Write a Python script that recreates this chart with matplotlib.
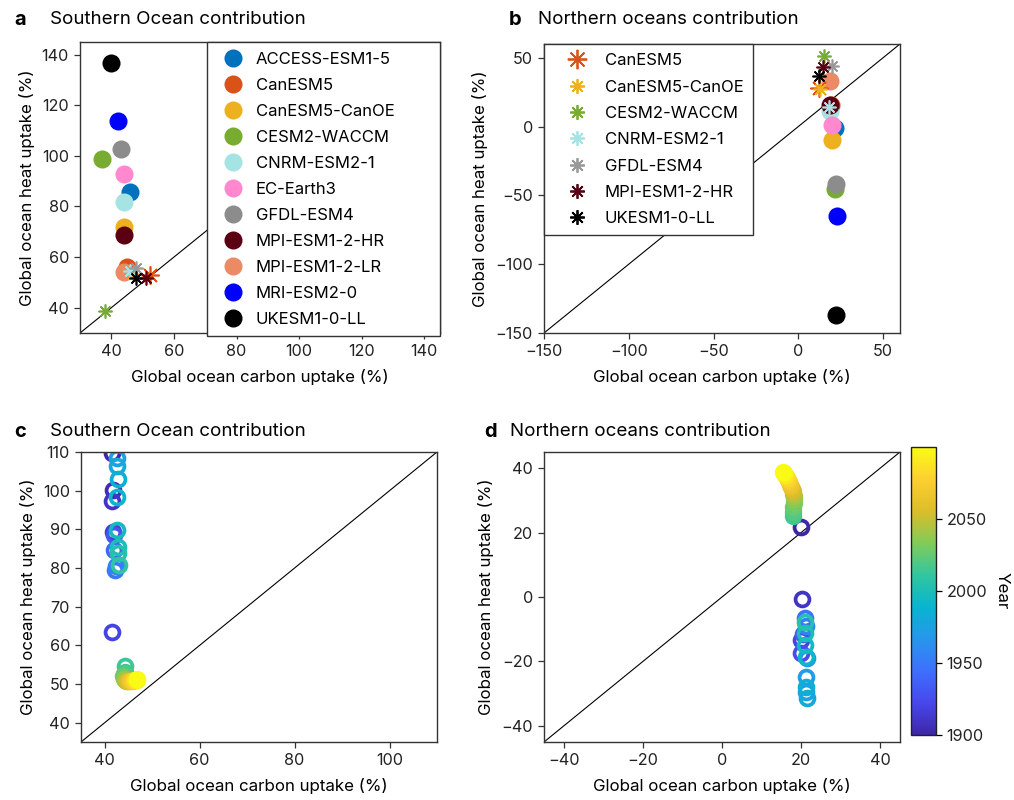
import numpy as np
import matplotlib
matplotlib.use('Agg')
import matplotlib.pyplot as plt
from matplotlib.colors import LinearSegmentedColormap, Normalize
from matplotlib.lines import Line2D
import matplotlib.cm as cm

plt.rcParams['font.family'] = ['Inter', 'DejaVu Sans']
plt.rcParams['font.size'] = 11.5
plt.rcParams['axes.unicode_minus'] = True

# ---- data: panels a, b (model means) ----
models = ['ACCESS-ESM1-5', 'CanESM5', 'CanESM5-CanOE', 'CESM2-WACCM', 'CNRM-ESM2-1',
          'EC-Earth3', 'GFDL-ESM4', 'MPI-ESM1-2-HR', 'MPI-ESM1-2-LR', 'MRI-ESM2-0', 'UKESM1-0-LL']
model_colors = ['#0072BD', '#D95319', '#EDB120', '#77AC30', '#A6E4E4',
                '#FF88CF', '#8C8C8C', '#5A0012', '#EC8A66', '#0000FF', '#000000']

so_carbon = [46.1, 45.0, 43.9, 37.1, 43.9, 43.9, 43.1, 43.9, 43.9, 42.0, 39.9]
so_heat = [85.8, 56.2, 72.0, 98.9, 81.8, 92.8, 102.8, 68.7, 54.0, 113.9, 136.8]
no_carbon = [21.8, 19.4, 19.8, 21.8, 18.8, 19.8, 22.4, 18.8, 18.8, 22.7, 22.4]
no_heat = [-1.0, 16.0, -9.6, -45.7, 11.0, 1.4, -41.4, 15.9, 33.2, -64.7, -136.6]

# asterisk models (second set of values)
ast_models = ['CanESM5', 'CanESM5-CanOE', 'CESM2-WACCM', 'CNRM-ESM2-1', 'GFDL-ESM4',
              'MPI-ESM1-2-HR', 'UKESM1-0-LL']
ast_colors = ['#D95319', '#EDB120', '#77AC30', '#A6E4E4', '#999999', '#5A0012', '#000000']
ast_so_carbon = [52.3, 47.0, 38.1, 46.1, 48.0, 51.2, 48.0]
ast_so_heat = [52.8, 53.5, 38.8, 54.5, 55.6, 51.9, 51.9]
ast_no_carbon = [12.0, 12.9, 14.9, 18.0, 19.8, 14.3, 12.2]
ast_no_heat = [28.0, 27.2, 51.2, 14.0, 44.0, 43.3, 36.8]

# ---- data: panels c, d (time evolution) ----
hist_years_c = [1900, 1905, 1910, 1915, 1920, 1930, 1940, 1950, 1955, 1975, 1980, 1985,
                1990, 1995, 2000, 2005, 2010, 2014]
hist_carbon_c = [41.6, 41.7, 41.6, 41.8, 41.6, 42.0, 42.0, 42.2, 42.3, 42.6, 42.6, 42.7,
                 42.5, 42.6, 42.8, 42.8, 43.0, 44.3]
hist_heat_c = [109.8, 100.3, 97.3, 89.4, 63.4, 88.5, 84.6, 79.5, 80.5, 108.4, 106.3, 102.9,
               98.4, 89.8, 85.5, 83.8, 80.8, 54.7]

fut_years = [2015, 2020, 2025, 2030, 2035, 2040, 2045, 2050, 2055, 2060, 2065, 2070,
             2075, 2080, 2085, 2090, 2095, 2100]
fut_carbon_c = [44.2, 44.0, 43.9, 44.0, 44.1, 44.3, 44.5, 44.7, 44.9, 45.1, 45.4, 45.6,
                45.9, 46.1, 46.3, 46.5, 46.7, 46.9]
fut_heat_c = [53.2, 52.6, 52.0, 51.5, 51.2, 51.0, 50.9, 50.9, 50.8, 50.8, 50.8, 50.9,
              50.9, 51.0, 51.0, 51.1, 51.1, 51.2]

hist_years_d = [1900, 1910, 1920, 1925, 1935, 1945, 1955, 1960, 1970, 1975, 1980, 1985,
                1990, 1995, 2000, 2005]
hist_carbon_d = [20.0, 20.2, 20.0, 20.0, 20.5, 21.1, 21.3, 21.5, 21.3, 21.3, 21.4, 21.3,
                 21.2, 21.0, 20.9, 20.9]
hist_heat_d = [21.6, -0.7, -13.3, -17.5, -11.5, -6.6, -9.0, -19.0, -24.9, -29.4, -31.4, -28.0,
               -18.5, -14.9, -11.3, -7.7]
fut_carbon_d = [18.0, 17.9, 18.0, 18.1, 18.1, 18.1, 18.0, 17.9, 17.7, 17.5, 17.3, 17.0,
                16.8, 16.5, 16.2, 16.0, 15.7, 15.5]
fut_heat_d = [25.0, 26.5, 28.0, 29.3, 30.3, 31.2, 32.0, 32.8, 33.5, 34.2, 34.9, 35.6,
              36.2, 36.8, 37.4, 37.9, 38.4, 38.8]

# parula-like colormap
parula_pts = [(0.2422, 0.1504, 0.6603), (0.2803, 0.2782, 0.9221), (0.2440, 0.4358, 0.9988),
              (0.1540, 0.5902, 0.9218), (0.0297, 0.7082, 0.8163), (0.1938, 0.7758, 0.6251),
              (0.5044, 0.7993, 0.3480), (0.8634, 0.7406, 0.1596), (0.9892, 0.8130, 0.1880),
              (0.9769, 0.9839, 0.0805)]
parula = LinearSegmentedColormap.from_list('parula', parula_pts)
norm = Normalize(1900, 2100)

fig = plt.figure(figsize=(10.14, 8), dpi=100)

W, H = 1014., 800.
def add_ax(l, t, r, b):
    return fig.add_axes([l / W, 1 - b / H, (r - l) / W, (b - t) / H])

ax_a = add_ax(80, 42, 440, 333)
ax_b = add_ax(544, 44, 900, 333)
ax_c = add_ax(81, 452, 437, 742)
ax_d = add_ax(544, 452, 900, 742)
cax = add_ax(911, 447, 936, 735)

spine_col = '#333333'
for ax in [ax_a, ax_b, ax_c, ax_d]:
    for s in ax.spines.values():
        s.set_color(spine_col)
        s.set_linewidth(1.0)
    ax.tick_params(direction='out', length=4, width=0.9, color=spine_col, labelsize=11.7,
                   labelcolor='#222222', pad=4)
    ax.set_xlabel('Global ocean carbon uptake (%)', fontsize=12.2, labelpad=7)
    ax.set_ylabel('Global ocean heat uptake (%)', fontsize=12.2, labelpad=5)

# ---- panel a ----
lim_a = (30, 145)
ax_a.plot(lim_a, lim_a, color='black', lw=0.8, zorder=1)
for i in range(len(models)):
    ax_a.plot(so_carbon[i], so_heat[i], 'o', ms=13, color=model_colors[i], mew=0, zorder=2)
for i in range(len(ast_models)):
    ms = 13 if ast_models[i] == 'CanESM5' else 10
    ax_a.plot(ast_so_carbon[i], ast_so_heat[i], marker=(8, 2, 0), ms=ms, color=ast_colors[i],
              mew=1.2, ls='none', zorder=3)
ax_a.set_xlim(lim_a)
ax_a.set_ylim(lim_a)
ax_a.set_xticks([40, 60, 80, 100, 120, 140])
ax_a.set_yticks([40, 60, 80, 100, 120, 140])
handles_a = [Line2D([], [], marker='o', ls='none', ms=13, color=model_colors[i], mew=0)
             for i in range(len(models))]
leg_a = ax_a.legend(handles_a, models, loc='upper left', bbox_to_anchor=(0.353, 0, 0.647, 1),
                    mode='expand', borderaxespad=0, frameon=True, framealpha=1,
                    fancybox=False, edgecolor='#333333', fontsize=12, labelspacing=0.66,
                    handletextpad=0.35, borderpad=0.58, handlelength=2.0)
leg_a.get_frame().set_linewidth(1.0)
leg_a.set_zorder(5)

# ---- panel b ----
lim_b = (-150, 60)
ax_b.plot(lim_b, lim_b, color='black', lw=0.8, zorder=1)
for i in range(len(models)):
    ax_b.plot(no_carbon[i], no_heat[i], 'o', ms=13, color=model_colors[i], mew=0, zorder=2)
for i in range(len(ast_models)):
    ms = 13 if ast_models[i] == 'CanESM5' else 10
    ax_b.plot(ast_no_carbon[i], ast_no_heat[i], marker=(8, 2, 0), ms=ms, color=ast_colors[i],
              mew=1.2, ls='none', zorder=3)
ax_b.set_xlim(lim_b)
ax_b.set_ylim(lim_b)
ax_b.set_xticks([-150, -100, -50, 0, 50])
ax_b.set_yticks([-150, -100, -50, 0, 50])
handles_b = [Line2D([], [], marker=(8, 2, 0), ls='none',
                    ms=14 if ast_models[i] == 'CanESM5' else 10.5,
                    color=ast_colors[i], mew=1.3) for i in range(len(ast_models))]
leg_b = ax_b.legend(handles_b, ast_models, loc='upper left', borderaxespad=0, frameon=True,
                    framealpha=1, fancybox=False, edgecolor='#333333', fontsize=12,
                    labelspacing=0.68, handletextpad=0.3, borderpad=0.55, handlelength=2.8)
leg_b.get_frame().set_linewidth(1.0)
leg_b.set_zorder(5)

# ---- panels c, d ----
def draw_time(ax, lim, hx, hy, hyr, fx, fy):
    ax.plot(lim, lim, color='black', lw=0.8, zorder=1)
    for i in range(len(hx)):
        ax.plot(hx[i], hy[i], 'o', ms=10, mfc='none', mew=2.7,
                mec=parula(norm(hyr[i])), zorder=2)
    for i in range(len(fx)):
        ax.plot(fx[i], fy[i], 'o', ms=12.5, mew=0, color=parula(norm(fut_years[i])), zorder=3)
    ax.set_xlim(lim)
    ax.set_ylim(lim)

draw_time(ax_c, (35, 110), hist_carbon_c, hist_heat_c, hist_years_c, fut_carbon_c, fut_heat_c)
ax_c.set_xticks([40, 60, 80, 100])
ax_c.set_yticks([40, 50, 60, 70, 80, 90, 100, 110])

draw_time(ax_d, (-45, 45), hist_carbon_d, hist_heat_d, hist_years_d, fut_carbon_d, fut_heat_d)
ax_d.set_xticks([-40, -20, 0, 20, 40])
ax_d.set_yticks([-40, -20, 0, 20, 40])

sm = cm.ScalarMappable(norm=norm, cmap=parula)
cb = fig.colorbar(sm, cax=cax)
cb.set_ticks([1900, 1950, 2000, 2050])
cb.ax.tick_params(direction='out', length=4, width=0.9, labelsize=11.7, labelcolor='#222222')
cb.outline.set_linewidth(1.0)
cb.outline.set_edgecolor('#222222')
cb.set_label('Year', rotation=270, fontsize=12.2, labelpad=16)

# ---- panel titles ----
def panel_title(xl, xt, ypx, letter, text):
    fig.text(xl / W, 1 - ypx / H, letter, fontsize=14.5, fontweight='bold', va='center')
    fig.text(xt / W, 1 - ypx / H, text, fontsize=13.5, va='center')

panel_title(14, 50, 20, 'a', 'Southern Ocean contribution')
panel_title(509, 538, 20, 'b', 'Northern oceans contribution')
panel_title(14, 50, 432, 'c', 'Southern Ocean contribution')
panel_title(484, 510, 432, 'd', 'Northern oceans contribution')

fig.savefig('out.png', dpi=100)
